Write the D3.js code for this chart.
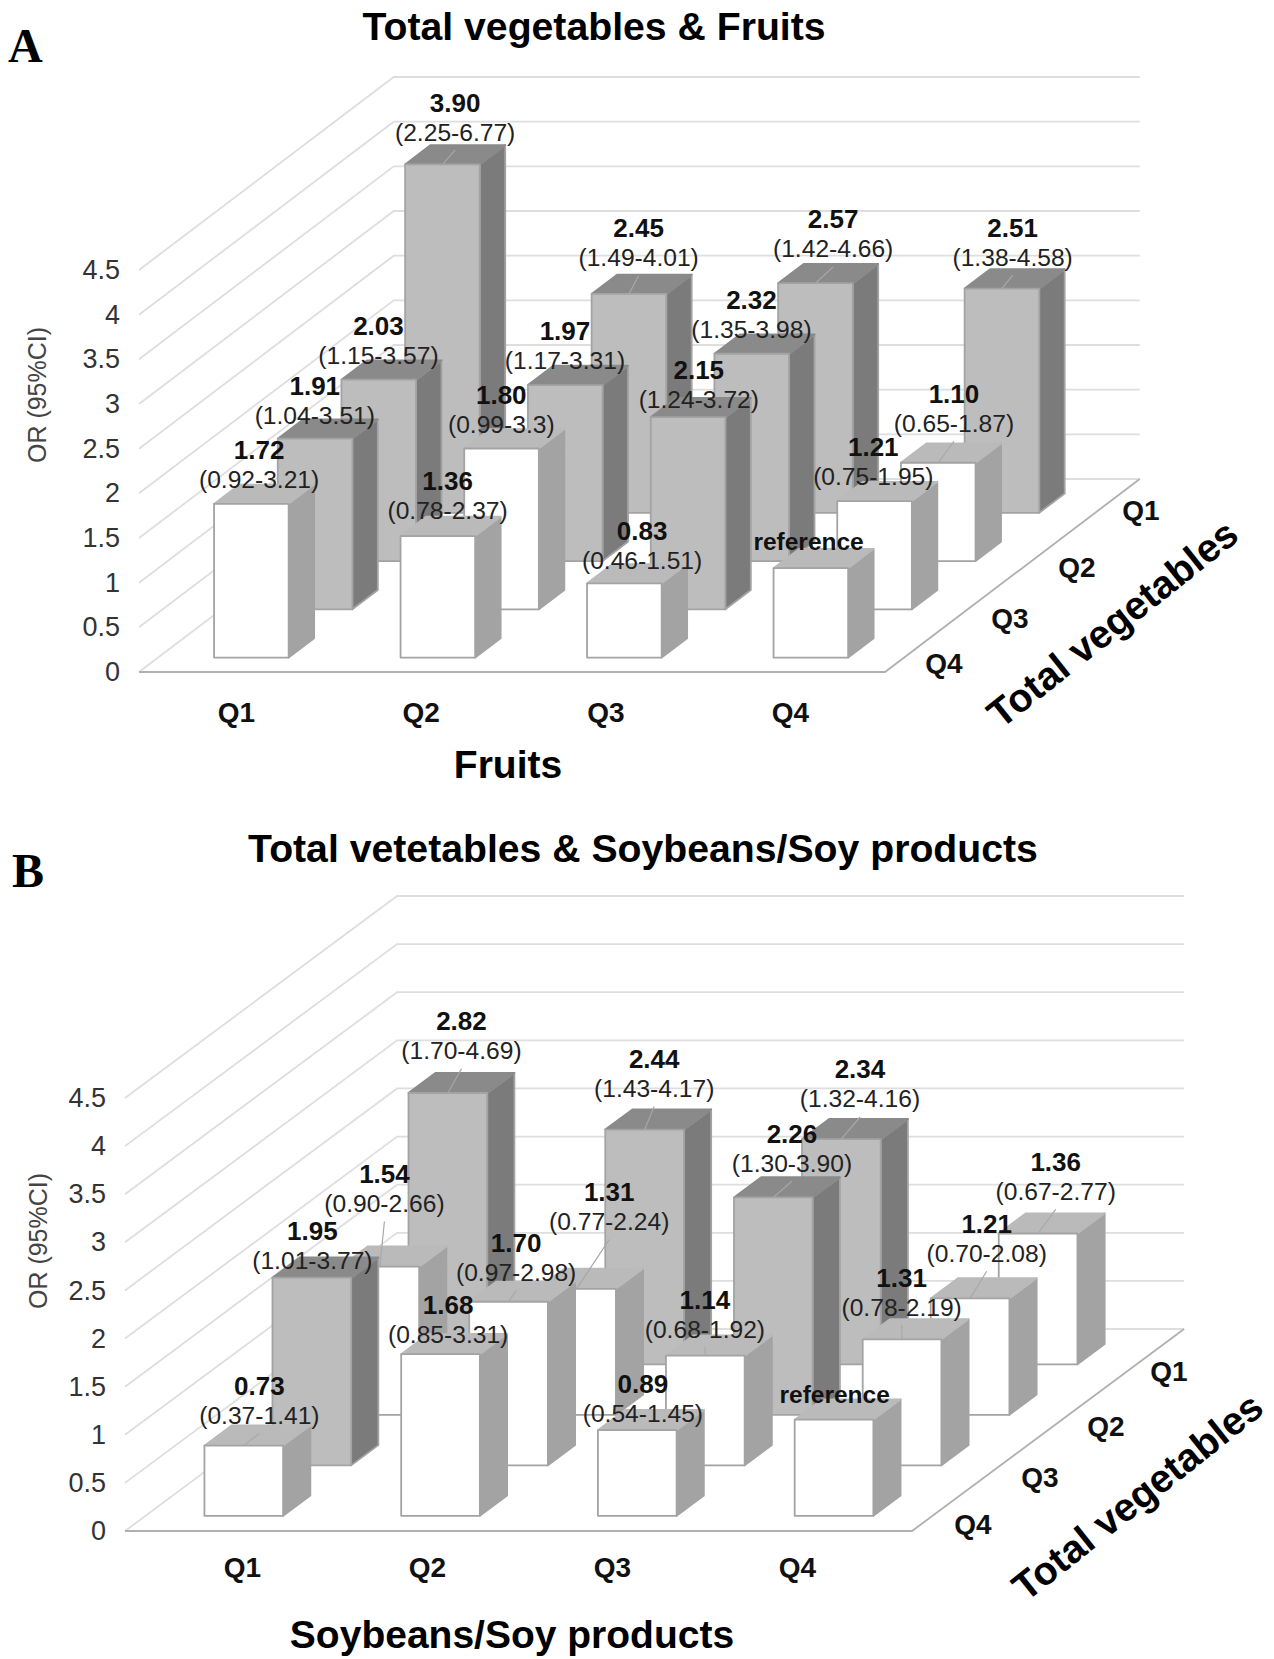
<!DOCTYPE html>
<html>
<head>
<meta charset="utf-8">
<script src="https://d3js.org/d3.v7.min.js"></script>
<style>
  body { margin: 0; background: #fff; }
  text { font-family: "Liberation Sans", Arial, sans-serif; }
</style>
</head>
<body>
<main></main>
<script>
let svgWidth  = 1274;
let svgHeight = 1659;

const fruitQuartiles = ['Q1', 'Q2', 'Q3', 'Q4'];
const vegQuartiles   = ['Q1', 'Q2', 'Q3', 'Q4'];
const yTicks = [0, 0.5, 1, 1.5, 2, 2.5, 3, 3.5, 4, 4.5];

// panel A, one array per total vegetables quartile, columns are fruits Q1..Q4
const orA_Q1 = [3.90, 2.45, 2.57, 2.51];
const orA_Q2 = [2.03, 1.97, 2.32, 1.10];
const orA_Q3 = [1.91, 1.80, 2.15, 1.21];
const orA_Q4 = [1.72, 1.36, 0.83, 1];
const ciA_Q1 = ['(2.25-6.77)', '(1.49-4.01)', '(1.42-4.66)', '(1.38-4.58)'];
const ciA_Q2 = ['(1.15-3.57)', '(1.17-3.31)', '(1.35-3.98)', '(0.65-1.87)'];
const ciA_Q3 = ['(1.04-3.51)', '(0.99-3.3)', '(1.24-3.72)', '(0.75-1.95)'];
const ciA_Q4 = ['(0.92-3.21)', '(0.78-2.37)', '(0.46-1.51)', null];

// panel B, columns are soybeans/soy products Q1..Q4
const orB_Q1 = [2.82, 2.44, 2.34, 1.36];
const orB_Q2 = [1.54, 1.31, 2.26, 1.21];
const orB_Q3 = [1.95, 1.70, 1.14, 1.31];
const orB_Q4 = [0.73, 1.68, 0.89, 1];
const ciB_Q1 = ['(1.70-4.69)', '(1.43-4.17)', '(1.32-4.16)', '(0.67-2.77)'];
const ciB_Q2 = ['(0.90-2.66)', '(0.77-2.24)', '(1.30-3.90)', '(0.70-2.08)'];
const ciB_Q3 = ['(1.01-3.77)', '(0.97-2.98)', '(0.68-1.92)', '(0.78-2.19)'];
const ciB_Q4 = ['(0.37-1.41)', '(0.85-3.31)', '(0.54-1.45)', null];

// hand placed labels: shift from the back top centre of each bar
const shiftA = [
  [[0, -13], [-3, -17], [5, -15], [-2, -12]],
  [[-13, -5], [-13, -5], [-13, -5], [3, -20]],
  [[-13, -4], [-13, -5], [-2, 2], [-14, -5]],
  [[-5, -5], [-3, -6], [5, -4], [-15, -6]]
];
const shiftB = [
  [[0, -22], [-4, -21], [5, -20], [4, -22]],
  [[-9, -43], [19, -47], [5, -14], [3, -25]],
  [[-13, 3], [-6, -9], [-14, -6], [-14, -12]],
  [[2, -10], [-6, 1], [-8, 3], [-13, -3]]
];
// bars whose label has a leader line
const leaderA = [[1, 1, 1, 1], [0, 0, 0, 1], [0, 0, 0, 0], [0, 0, 0, 0]];
const leaderB = [[1, 1, 1, 1], [1, 1, 1, 1], [0, 1, 1, 1], [1, 0, 0, 0]];

const panelA = {
  letter: 'A', letterX: 8, letterY: 62,
  title: 'Total vegetables & Fruits', titleX: 594, titleY: 40,
  xTitle: 'Fruits', xTitleX: 508, xTitleY: 778,
  zTitleX: 1113, zTitleY: 624,
  yTitleX: 38, yTitleY: 395,
  ox: 139, oy: 672, w: 746, d: 193, slant: 1.32, h: 402,
  tickX: 120, xLabels: [236, 790], xLabelY: 702,
  zLabels: [[1141, 510], [1077, 567], [1010, 618], [944, 663]],
  or: [orA_Q1, orA_Q2, orA_Q3, orA_Q4],
  ci: [ciA_Q1, ciA_Q2, ciA_Q3, ciA_Q4],
  shift: shiftA, leader: leaderA
};

const panelB = {
  letter: 'B', letterX: 12, letterY: 887,
  title: 'Total vetetables & Soybeans/Soy products', titleX: 643, titleY: 862,
  xTitle: 'Soybeans/Soy products', xTitleX: 512, xTitleY: 1648,
  zTitleX: 1138, zTitleY: 1497,
  yTitleX: 39, yTitleY: 1241,
  ox: 125, oy: 1531, w: 787, d: 202, slant: 1.347, h: 433,
  tickX: 106, xLabels: [242, 797], xLabelY: 1557,
  zLabels: [[1169, 1371], [1106, 1426], [1040, 1477], [973, 1524]],
  or: [orB_Q1, orB_Q2, orB_Q3, orB_Q4],
  ci: [ciB_Q1, ciB_Q2, ciB_Q3, ciB_Q4],
  shift: shiftB, leader: leaderB
};

const gridColor = '#dedede';
const edgeColor = '#b0b0b0';
const greyFaces  = { front: '#bdbdbd', top: '#8a8a8a', side: '#7b7b7b', stroke: '#a3a3a3' };
const whiteFaces = { front: '#ffffff', top: '#bababa', side: '#a3a3a3', stroke: '#a3a3a3' };

function polygon(g, pts, fill, stroke) {
  g.append('polygon')
    .attr('points', pts.map(function(p) { return p.join(','); }).join(' '))
    .attr('fill', fill)
    .attr('stroke', stroke)
    .attr('stroke-width', 1.8)
    .attr('stroke-linejoin', 'round');
}

function drawPanel(svg, p) {
  let g = svg.append('g');

  let x = d3.scaleBand().domain(fruitQuartiles).range([0, p.w]).paddingInner(0.6).paddingOuter(0.3);
  let z = d3.scaleBand().domain(vegQuartiles.slice().reverse()).range([0, p.d]).paddingInner(0.6).paddingOuter(0.3);
  let y = d3.scaleLinear().domain([0, 4.5]).range([p.oy, p.oy - p.h]);

  // oblique projection: depth goes up and to the right
  let proj = function(px, pz, value) {
    return [p.ox + px + pz * p.slant, y(value) - pz];
  };

  // walls and floor
  yTicks.forEach(function(t) {
    let a = proj(0, 0, t), b = proj(0, p.d, t), c = proj(p.w, p.d, t);
    g.append('polyline')
      .attr('points', [a, b, c].map(function(q) { return q.join(','); }).join(' '))
      .attr('fill', 'none')
      .attr('stroke', gridColor)
      .attr('stroke-width', 1.8);
  });
  g.append('polyline')
    .attr('points', [proj(0, 0, 0), proj(p.w, 0, 0), proj(p.w, p.d, 0)].map(function(q) { return q.join(','); }).join(' '))
    .attr('fill', 'none')
    .attr('stroke', edgeColor)
    .attr('stroke-width', 1.8);

  // bars, back row first
  vegQuartiles.forEach(function(veg, r) {
    fruitQuartiles.forEach(function(fruit, c) {
      let v = p.or[r][c];
      let ci = p.ci[r][c];
      let faces = ci && parseFloat(ci.slice(1)) > 1 ? greyFaces : whiteFaces;
      let x0 = x(fruit), x1 = x0 + x.bandwidth();
      let z0 = z(veg), z1 = z0 + z.bandwidth();
      let bar = g.append('g');
      polygon(bar, [proj(x1, z0, 0), proj(x1, z1, 0), proj(x1, z1, v), proj(x1, z0, v)], faces.side, faces.stroke);
      polygon(bar, [proj(x0, z0, v), proj(x1, z0, v), proj(x1, z1, v), proj(x0, z1, v)], faces.top, faces.top);
      polygon(bar, [proj(x0, z0, 0), proj(x1, z0, 0), proj(x1, z0, v), proj(x0, z0, v)], faces.front, faces.stroke);
    });
  });

  // labels go over all the bars
  vegQuartiles.forEach(function(veg, r) {
    fruitQuartiles.forEach(function(fruit, c) {
      let v = p.or[r][c];
      let ci = p.ci[r][c];
      let xm = x(fruit) + x.bandwidth() / 2;
      let back = proj(xm, z(veg) + z.bandwidth() / 2, v);
      let top = proj(xm, z(veg) + z.bandwidth(), v);
      let lx = back[0] + p.shift[r][c][0];
      let ly = top[1] + p.shift[r][c][1];

      if (p.leader[r][c]) {
        let foot = proj(xm, z(veg), v);
        g.append('line')
          .attr('x1', foot[0]).attr('y1', foot[1])
          .attr('x2', lx).attr('y2', ly + 18)
          .attr('stroke', '#a8a8a8')
          .attr('stroke-width', 1.2);
      }
      if (!ci) {
        g.append('text')
          .attr('x', lx).attr('y', ly + 7)
          .attr('text-anchor', 'middle')
          .attr('font-size', 24.5).attr('font-weight', 'bold').attr('fill', '#111')
          .text('reference');
        return;
      }
      g.append('text')
        .attr('x', lx).attr('y', ly - 20.5)
        .attr('text-anchor', 'middle')
        .attr('font-size', 26).attr('font-weight', 'bold').attr('fill', '#111')
        .text(d3.format('.2f')(v));
      g.append('text')
        .attr('x', lx).attr('y', ly + 8.5)
        .attr('text-anchor', 'middle')
        .attr('font-size', 24.6).attr('fill', '#222')
        .text(ci);
    });
  });

  // y axis
  let yAxis = g.append('g')
    .attr('transform', 'translate(' + p.tickX + ',0)')
    .call(d3.axisLeft(y).tickValues(yTicks).tickFormat(String).tickSize(0).tickPadding(0));
  yAxis.select('.domain').remove();
  yAxis.selectAll('text')
    .attr('font-family', '"Liberation Sans", Arial, sans-serif')
    .attr('font-size', 27).attr('fill', '#333');

  // fruit quartile labels do not sit under the bands in the original
  let xLabel = d3.scalePoint().domain(fruitQuartiles).range(p.xLabels);
  let xAxis = g.append('g')
    .attr('transform', 'translate(0,' + p.xLabelY + ')')
    .call(d3.axisBottom(xLabel).tickSize(0).tickPadding(0));
  xAxis.select('.domain').remove();
  xAxis.selectAll('text')
    .attr('font-family', '"Liberation Sans", Arial, sans-serif')
    .attr('font-size', 28).attr('font-weight', 'bold').attr('fill', '#111');

  g.selectAll('.zlabel')
    .data(vegQuartiles)
    .enter()
    .append('text')
      .attr('class', 'zlabel')
      .attr('x', function(d, i) { return p.zLabels[i][0]; })
      .attr('y', function(d, i) { return p.zLabels[i][1] + 10; })
      .attr('text-anchor', 'middle')
      .attr('font-size', 28).attr('font-weight', 'bold').attr('fill', '#111')
      .text(function(d) { return d; });

  // titles
  g.append('text')
    .attr('x', p.letterX).attr('y', p.letterY)
    .attr('font-size', 48).attr('font-weight', 'bold').attr('fill', '#000')
    .style('font-family', '"Liberation Serif", serif')
    .text(p.letter);
  g.append('text')
    .attr('x', p.titleX).attr('y', p.titleY)
    .attr('text-anchor', 'middle')
    .attr('font-size', 39.2).attr('font-weight', 'bold').attr('fill', '#000')
    .text(p.title);
  g.append('text')
    .attr('x', p.xTitleX).attr('y', p.xTitleY)
    .attr('text-anchor', 'middle')
    .attr('font-size', 39).attr('font-weight', 'bold').attr('fill', '#000')
    .text(p.xTitle);
  g.append('text')
    .attr('transform', 'translate(' + p.zTitleX + ',' + p.zTitleY + ') rotate(-38.5)')
    .attr('text-anchor', 'middle')
    .attr('dy', 13)
    .attr('font-size', 39.5).attr('font-weight', 'bold').attr('fill', '#000')
    .text('Total vegetables');
  g.append('text')
    .attr('transform', 'translate(' + p.yTitleX + ',' + p.yTitleY + ') rotate(-90)')
    .attr('text-anchor', 'middle')
    .attr('dy', 8)
    .attr('font-size', 25).attr('fill', '#444')
    .text('OR (95%CI)');
}

document.addEventListener('DOMContentLoaded', function() {
  let svg = d3.select('body main')
    .append('svg')
    .attr('width', svgWidth)
    .attr('height', svgHeight)
    .style('display', 'block');

  drawPanel(svg, panelA);
  drawPanel(svg, panelB);
});
</script>
</body>
</html>
